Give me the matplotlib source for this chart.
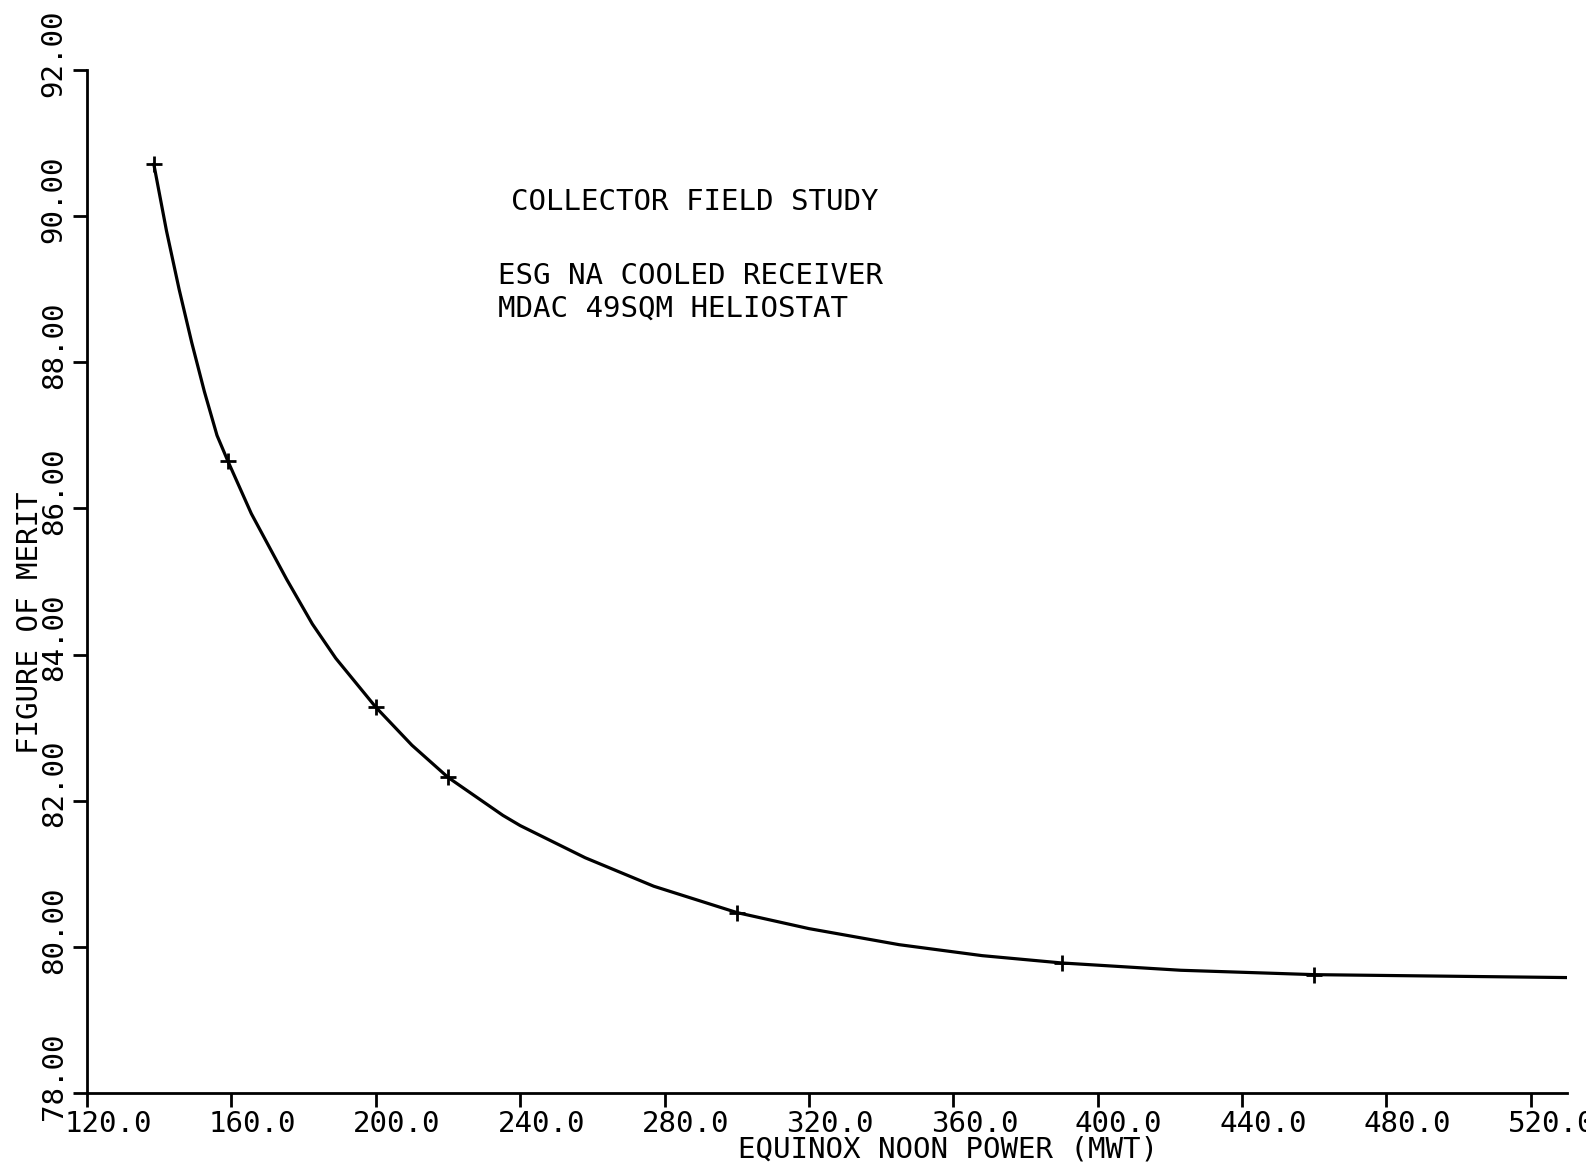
import matplotlib
matplotlib.use('Agg')
import matplotlib.pyplot as plt
from matplotlib.transforms import ScaledTranslation

# marked design points
marker_x = [138.5, 159.0, 200.0, 220.0, 300.0, 390.0, 460.0]
marker_y = [90.71, 86.65, 83.28, 82.32, 80.47, 79.78, 79.62]

# curve
curve_x = [138.5, 142.0, 145.5, 149.0, 152.5, 156.0, 159.0, 165.5, 175.3, 182.4,
           188.9, 200.0, 210.0, 220.0, 235.2, 240.0, 258.0, 277.0, 300.0, 320.0,
           345.0, 368.0, 390.0, 423.0, 460.0, 530.0]
curve_y = [90.71, 89.80, 89.00, 88.27, 87.60, 87.00, 86.65, 85.93, 85.03, 84.42,
           83.95, 83.28, 82.76, 82.32, 81.80, 81.66, 81.22, 80.83, 80.47, 80.25,
           80.03, 79.88, 79.78, 79.68, 79.62, 79.58]

xticks = [120, 160, 200, 240, 280, 320, 360, 400, 440, 480, 520]
xlabels = ['120.0', '160.0', '200.0', '240.0', '280.0', '320.0', '360.0',
           '400.0', '440.0', '480.0', '520.0']
yticks = [78, 80, 82, 84, 86, 88, 90, 92]
ylabels = ['78.00', '80.00', '82.00', '84.00', '86.00', '88.00', '90.00', '92.00']

notes = ['COLLECTOR FIELD STUDY', 'ESG NA COOLED RECEIVER', 'MDAC 49SQM HELIOSTAT']

plt.rcParams['font.family'] = ['DejaVu Sans Mono']
fs = 21

fig = plt.figure(figsize=(15.86, 11.68), dpi=100)
ax = fig.add_axes([0.0549, 0.0642, 0.9331, 0.8758])

ax.plot(curve_x, curve_y, color='black', lw=2.3, solid_joinstyle='round')
ax.plot(marker_x, marker_y, ls='none', marker='+', ms=11, mew=2, color='black')

ax.set_xlim(120, 530)
ax.set_ylim(78, 92)
for s in ['top', 'right']:
    ax.spines[s].set_visible(False)
for s in ['left', 'bottom']:
    ax.spines[s].set_linewidth(2)

ax.set_xticks(xticks)
ax.set_xticklabels(xlabels, fontsize=fs)
ax.set_yticks(yticks)
ax.set_yticklabels(ylabels, fontsize=fs, rotation=90, va='center')
ax.tick_params(axis='both', direction='out', length=10, width=2)
ax.tick_params(axis='x', pad=2)
ax.tick_params(axis='y', pad=4)

# labels sit off-centre from their ticks, like the plotter output
for lab in ax.get_xticklabels():
    lab.set_transform(lab.get_transform() + ScaledTranslation(0.21, 0, fig.dpi_scale_trans))
for lab in ax.get_yticklabels():
    lab.set_transform(lab.get_transform() + ScaledTranslation(0, 0.17, fig.dpi_scale_trans))

fig.text(0.598, 0.016, 'EQUINOX NOON POWER (MWT)', fontsize=fs, ha='center', va='center')
fig.text(0.019, 0.4666, 'FIGURE OF MERIT', fontsize=fs, rotation=90, ha='center', va='center')

fig.text(0.322, 0.827, notes[0], fontsize=fs, ha='left', va='center')
fig.text(0.314, 0.764, notes[1], fontsize=fs, ha='left', va='center')
fig.text(0.314, 0.736, notes[2], fontsize=fs, ha='left', va='center')

plt.savefig('out.png', dpi=100)
